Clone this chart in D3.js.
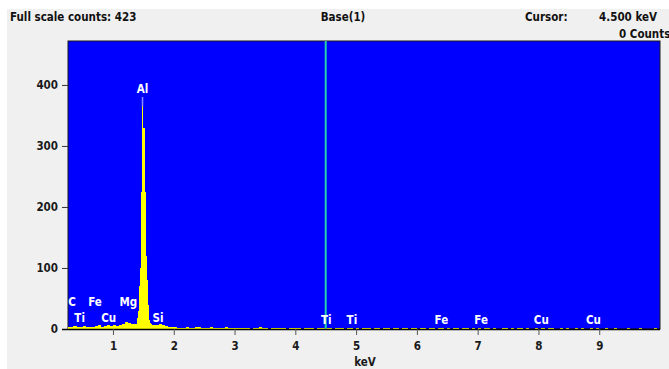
<!DOCTYPE html>
<html>
<head>
<meta charset="utf-8">
<script src="https://cdn.jsdelivr.net/npm/d3@7"></script>
<style>
  body { margin: 0; background: #fff; }
  svg text { font-family: "DejaVu Sans Condensed", "DejaVu Sans", sans-serif; font-weight: bold; }
</style>
</head>
<body>
<div id="chart"></div>
<script>
// background spectrum, 0.05 keV channels starting at 0.25 keV
var bgStart = 0.25, bgWidth = 0.05;
var bgCounts = [
  3,4,5,3,4,5,4,3,4,5,6,4,5,6,5,
  6,5,7,9,12,10,8,
  8,10,10,10,10,9,
  7,6,8,6,5,4,3,
  3,2,2,1,3,2,2,4,3,1,2,2,3,1,2,2,1,3,2,1,
  2,1,2,2,1,0,2,1,3,1,2,0,1,2,1,2,1,0,2,1,
  1,2,0,1,2,1,0,2,1,1,2,1,0,1,1,2,0,1,1,0,
  1,0,1,2,1,0,1,1,0,2,1,0,1,1,0,1,2,0,1,1,
  0,2,1,0,2,1,0,1,2,0,1,0,1,2,0,1,2,0,1,0,
  2,0,1,2,0,1,0,0,2,1,0,2,0,1,2,0,1,0,0,2,
  0,2,0,1,2,0,0,1,0,2,0,0,1,0,2,0,0,1,0,2,
  0,0,2,0,0,1,0,0,0,2,0,0,0,1,0,0,0,0,2,0
];

// Al K peak, 0.01 keV channels
var peakStart = 1.38, peakWidth = 0.01;
var peakCounts = [6,10,18,30,45,70,100,100,225,365,365,365,330,330,225,225,160,120,80,66,40,25,15,10,7,5];

var yTicks = [0, 100, 200, 300, 400];
var xTicks = [1, 2, 3, 4, 5, 6, 7, 8, 9];

var elemNames =  ["C", "Ti", "Fe", "Cu", "Mg", "Al", "Si", "Ti", "Ti", "Fe", "Fe", "Cu", "Cu"];
var elemEnergy = [0.277, 0.452, 0.705, 0.930, 1.254, 1.486, 1.740, 4.510, 4.931, 6.404, 7.058, 8.048, 8.905];
var elemRow =    [1, 2, 1, 2, 1, 0, 2, 3, 3, 3, 3, 3, 3];

var cursorKeV = 4.5;
var fullScale = 423;

var W = 669, H = 369;
var pL = 68, pR = 660, pT = 41, pB = 329;

var svg = d3.select('#chart').append('svg')
  .attr('width', W).attr('height', H);

svg.append('rect').attr('x', 7).attr('y', 9).attr('width', W - 7).attr('height', H - 9).attr('fill', '#f0f0f0');

var x = d3.scaleLinear().domain([0.26, 10.0]).range([pL, pR]);
var y = d3.scaleLinear().domain([0, 472]).range([pB, pT]);

svg.append('rect').attr('x', pL).attr('y', pT)
  .attr('width', pR - pL).attr('height', pB - pT)
  .attr('fill', '#0000ff').attr('stroke', '#1a1a1a').attr('stroke-width', 1);

svg.append('clipPath').attr('id', 'clip').append('rect')
  .attr('x', pL).attr('y', pT).attr('width', pR - pL).attr('height', pB - pT);

function toPoints(start, width, counts) {
  var pts = counts.map(function (c, i) { return [start + i * width, c]; });
  pts.push([start + counts.length * width, counts[counts.length - 1]]);
  return pts;
}

var area = d3.area()
  .curve(d3.curveStepAfter)
  .x(function (d) { return x(d[0]); })
  .y0(y(0))
  .y1(function (d) { return y(d[1]); });

var g = svg.append('g').attr('clip-path', 'url(#clip)');
g.append('path').datum(toPoints(bgStart, bgWidth, bgCounts))
  .attr('d', area).attr('fill', '#ffff00').attr('shape-rendering', 'crispEdges');
g.append('path').datum(toPoints(peakStart, peakWidth, peakCounts))
  .attr('d', area).attr('fill', '#ffff00').attr('shape-rendering', 'crispEdges');

// Al marker line
g.append('line')
  .attr('x1', x(1.486)).attr('x2', x(1.486))
  .attr('y1', 97).attr('y2', y(365))
  .attr('stroke', '#8c8cff').attr('stroke-width', 1.5);

// cursor
g.append('line')
  .attr('x1', x(cursorKeV)).attr('x2', x(cursorKeV))
  .attr('y1', pT).attr('y2', pB)
  .attr('stroke', '#22d4a8').attr('stroke-width', 2);

// element labels
var rowY = [93, 306, 322, 324];
svg.append('g').selectAll('text').data(elemNames).enter().append('text')
  .attr('x', function (d, i) { return Math.max(x(elemEnergy[i]), pL + 4); })
  .attr('y', function (d, i) { return rowY[elemRow[i]]; })
  .attr('text-anchor', 'middle')
  .attr('font-size', 11.5)
  .attr('fill', '#ffffff')
  .text(function (d) { return d; });

// axes
var yAxis = svg.append('g').attr('transform', 'translate(' + pL + ',0)')
  .call(d3.axisLeft(y).tickValues(yTicks).tickSize(6).tickPadding(4));
yAxis.select('.domain').remove();
yAxis.selectAll('line').attr('stroke', '#333');
yAxis.selectAll('text').attr('font-size', 11.5).attr('fill', '#1a1a1a')
  .attr('font-family', '"DejaVu Sans", sans-serif');

var xAxis = svg.append('g').attr('transform', 'translate(0,' + pB + ')')
  .call(d3.axisBottom(x).tickValues(xTicks).tickFormat(d3.format('d')).tickSize(6).tickPadding(7));
xAxis.select('.domain').attr('d', 'M' + (pL - 6) + ',0.5H' + pR).attr('stroke', '#000').attr('stroke-width', 1.5);
xAxis.selectAll('line').attr('stroke', '#555');
xAxis.selectAll('text').attr('font-size', 11.5).attr('fill', '#1a1a1a')
  .attr('font-family', '"DejaVu Sans", sans-serif');

svg.append('text').attr('x', 365).attr('y', 366).attr('text-anchor', 'middle')
  .attr('font-size', 11.5).attr('fill', '#1a1a1a').text('keV');

// header
svg.append('text').attr('x', 10).attr('y', 21).attr('font-size', 11.5).attr('fill', '#111')
  .text('Full scale counts: ' + fullScale);
svg.append('text').attr('x', 343).attr('y', 21).attr('text-anchor', 'middle').attr('font-size', 11.5).attr('fill', '#111')
  .text('Base(1)');
svg.append('text').attr('x', 525).attr('y', 21).attr('font-size', 11.5).attr('fill', '#111')
  .text('Cursor:');
svg.append('text').attr('x', 657).attr('y', 21).attr('text-anchor', 'end').attr('font-size', 11.5).attr('fill', '#111')
  .text(cursorKeV.toFixed(3) + ' keV');
svg.append('text').attr('x', 619).attr('y', 38).attr('font-size', 11.5).attr('fill', '#111')
  .text('0 Counts');
</script>
</body>
</html>
